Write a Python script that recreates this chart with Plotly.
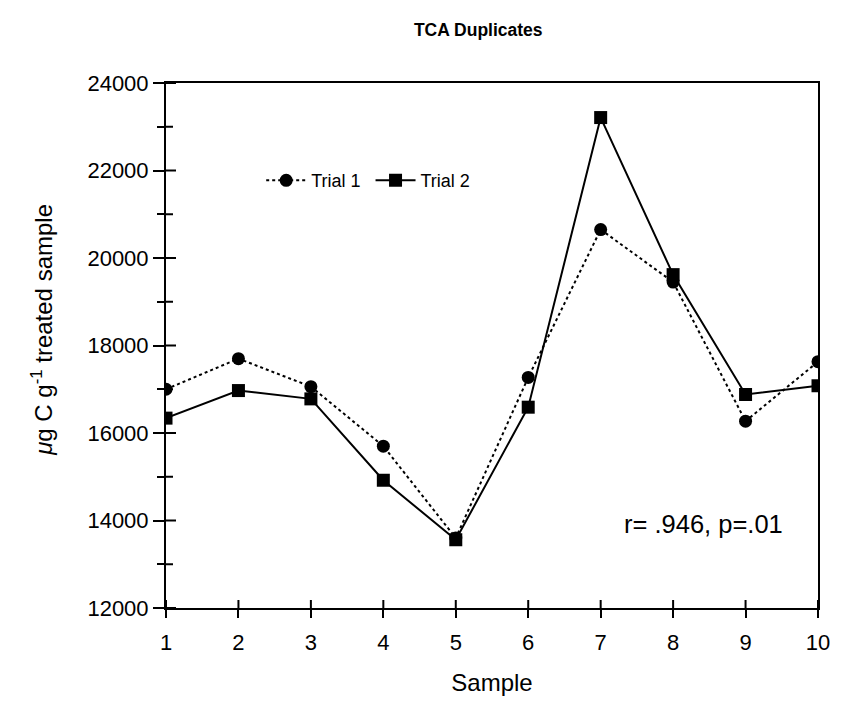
import plotly.graph_objects as go

samples = [1, 2, 3, 4, 5, 6, 7, 8, 9, 10]
trial1 = [17000, 17700, 17060, 15700, 13600, 17270, 20650, 19450, 16270, 17630]
trial2 = [16340, 16970, 16780, 14920, 13560, 16590, 23210, 19620, 16880, 17080]
y_ticks = [12000, 14000, 16000, 18000, 20000, 22000, 24000]
y_minor = [13000, 15000, 17000, 19000, 21000, 23000]

FONT = "Liberation Sans, Arial, sans-serif"

fig = go.Figure()
fig.add_trace(go.Scatter(
    x=samples, y=trial1, name="Trial 1 ", mode="lines+markers",
    line=dict(color="black", width=2, dash="dot"),
    marker=dict(symbol="circle", size=13, color="black"),
))
fig.add_trace(go.Scatter(
    x=samples, y=trial2, name="Trial 2", mode="lines+markers",
    line=dict(color="black", width=2),
    marker=dict(symbol="square", size=13, color="black"),
))

# inward halves of the crossing tick marks (outward halves come from the axes)
tick_shapes = []
for s in samples:
    tick_shapes.append(dict(type="line", xref="x", yref="paper", ysizemode="pixel",
                            yanchor=0, x0=s, x1=s, y0=0, y1=8,
                            line=dict(color="black", width=2)))
for v in y_ticks:
    tick_shapes.append(dict(type="line", xref="paper", yref="y", xsizemode="pixel",
                            xanchor=0, x0=0, x1=10, y0=v, y1=v,
                            line=dict(color="black", width=2)))
for v in y_minor:
    tick_shapes.append(dict(type="line", xref="paper", yref="y", xsizemode="pixel",
                            xanchor=0, x0=0, x1=7, y0=v, y1=v,
                            line=dict(color="black", width=2)))

xr = [1, 10]
yr = [12000, 24000]

fig.update_layout(
    width=842, height=704,
    margin=dict(l=166, r=12, t=83, b=95),
    paper_bgcolor="white", plot_bgcolor="white",
    font=dict(family=FONT, color="black", size=22),
    title=dict(text="<b>TCA Duplicates</b>", x=0.568, xanchor="center",
               y=0.957, yanchor="middle", font=dict(size=17.5)),
    showlegend=True,
    legend=dict(orientation="h", x=0.146, y=0.814, xanchor="left", yanchor="middle",
                bgcolor="rgba(0,0,0,0)", font=dict(size=18), itemwidth=40,
                tracegroupgap=0),
    xaxis=dict(range=xr, tickvals=samples, ticks="outside", ticklen=8, tickwidth=2,
               tickcolor="black", showline=True, linecolor="black", linewidth=2,
               mirror=True, showgrid=False, zeroline=False,
               tickfont=dict(size=22), ticklabelstandoff=6,
               title=dict(text="Sample", font=dict(size=24), standoff=20)),
    yaxis=dict(range=yr, tickvals=y_ticks, tickformat="d", ticks="outside", ticklen=11,
               tickwidth=2, tickcolor="black", showline=True, linecolor="black",
               linewidth=2, mirror=True, showgrid=False, zeroline=False,
               tickfont=dict(size=22),
               minor=dict(tickvals=y_minor, ticks="outside", ticklen=7, tickwidth=2,
                          tickcolor="black", showgrid=False)),
    shapes=tick_shapes,
    annotations=[
        dict(text="r= .946, p=.01", xref="paper", yref="paper",
             x=0.824, y=0.16, xanchor="center", yanchor="middle",
             showarrow=False, font=dict(size=25.5)),
        dict(text="<i>μ</i>g C g<sup>-1</sup> treated sample", xref="paper",
             yref="paper", x=-0.19, y=0.53, xanchor="center", yanchor="middle",
             textangle=-90, showarrow=False, font=dict(size=24)),
    ],
)

fig.write_html("out.html")
